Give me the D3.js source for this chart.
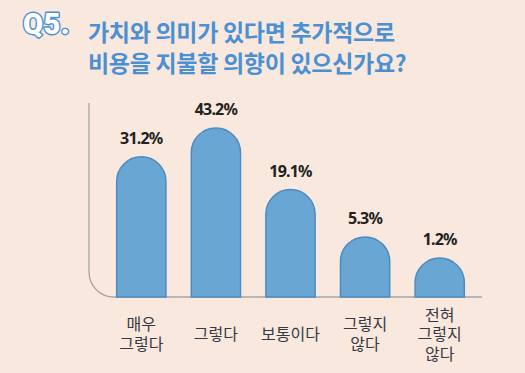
<!DOCTYPE html>
<html>
<head>
<meta charset="utf-8">
<script src="https://cdn.jsdelivr.net/npm/d3@7"></script>
<style>
  body { margin: 0; background: #f9e8dd; }
  svg { display: block; }
</style>
</head>
<body>
<script>
// chart data
var categories = [['매우', '그렇다'], ['그렇다'], ['보통이다'], ['그렇지', '않다'], ['전혀', '그렇지', '않다']];
var values = [31.2, 43.2, 19.1, 5.3, 1.2];
var valueLabels = ['31.2%', '43.2%', '19.1%', '5.3%', '1.2%'];
var titleLines = ['가치와 의미가 있다면 추가적으로', '비용을 지불할 의향이 있으신가요?'];

var width = 525;
var height = 373;
var baseY = 297;

var svg = d3.select('body')
  .append('svg')
  .attr('width', width)
  .attr('height', height);

svg.append('rect')
  .attr('width', width)
  .attr('height', height)
  .attr('fill', '#f9e8dd');

// title
svg.append('text')
  .text('Q5.')
  .attr('x', 23)
  .attr('y', 34)
  .attr('font-family', 'Roboto, sans-serif')
  .attr('font-weight', '900')
  .attr('font-size', '29px')
  .attr('letter-spacing', '0.5px')
  .attr('fill', '#ffffff')
  .attr('stroke', '#4a8fd2')
  .attr('stroke-width', 2.8)
  .attr('stroke-linejoin', 'round')
  .attr('paint-order', 'stroke');

svg.selectAll('text.title')
  .data(titleLines)
  .enter()
  .append('text')
  .classed('title', true)
  .text(function(d) { return d; })
  .attr('x', 88)
  .attr('y', function(d, i) { return 41 + i * 31; })
  .attr('font-family', '"Noto Sans CJK KR", sans-serif')
  .attr('font-weight', 'bold')
  .attr('font-size', '23px')
  .attr('letter-spacing', '-0.3px')
  .attr('fill', '#4a90d3');

// scales
var x = d3.scaleBand()
  .domain(d3.range(values.length))
  .range([104, 477])
  .paddingInner(0.34)
  .paddingOuter(0.17);

// bars are decorative: heights grow with the value but not proportionally
var h = d3.scalePow()
  .exponent(0.7)
  .domain([0, 43.2])
  .range([27.5, 169]);

// axis line with rounded corner
var r = 25;
svg.append('path')
  .attr('d', 'M89,103 V' + (baseY - r) + ' A' + r + ',' + r + ' 0 0 0 ' + (89 + r) + ',' + baseY + ' H482')
  .attr('fill', 'none')
  .attr('stroke', '#a5a5a5')
  .attr('stroke-width', 1.3);

function barPath(d, i) {
  var x0 = x(i);
  var w = x.bandwidth();
  var rr = w / 2;
  var top = baseY - h(d);
  return 'M' + x0 + ',' + baseY +
    ' V' + (top + rr) +
    ' A' + rr + ',' + rr + ' 0 0 1 ' + (x0 + w) + ',' + (top + rr) +
    ' V' + baseY + ' Z';
}

svg.selectAll('path.bar')
  .data(values)
  .enter()
  .append('path')
  .classed('bar', true)
  .attr('d', barPath)
  .attr('fill', '#69a6d3')
  .attr('stroke', '#4d8cc3')
  .attr('stroke-width', 1.5);

// value labels
svg.selectAll('text.value')
  .data(values)
  .enter()
  .append('text')
  .classed('value', true)
  .text(function(d, i) { return valueLabels[i]; })
  .attr('x', function(d, i) { return x(i) + x.bandwidth() / 2; })
  .attr('y', function(d) { return baseY - h(d) - 13; })
  .attr('text-anchor', 'middle')
  .attr('font-family', '"Noto Sans", sans-serif')
  .attr('font-weight', 'bold')
  .attr('font-size', '16px')
  .attr('letter-spacing', '-0.8px')
  .attr('fill', '#222222');

// category labels, centred vertically around y = 334
var lineH = 19.5;
var cats = svg.selectAll('text.cat')
  .data(categories)
  .enter()
  .append('text')
  .classed('cat', true)
  .attr('x', function(d, i) { return x(i) + x.bandwidth() / 2; })
  .attr('y', function(d) { return 334 - (d.length - 1) * lineH / 2 + 6; })
  .attr('text-anchor', 'middle')
  .attr('font-family', '"Noto Sans CJK KR", sans-serif')
  .attr('font-size', '16px')
  .attr('fill', '#363844');

cats.selectAll('tspan')
  .data(function(d) { return d; })
  .enter()
  .append('tspan')
  .text(function(d) { return d; })
  .attr('x', function() { return d3.select(this.parentNode).attr('x'); })
  .attr('dy', function(d, i) { return i === 0 ? 0 : lineH; });
</script>
</body>
</html>
